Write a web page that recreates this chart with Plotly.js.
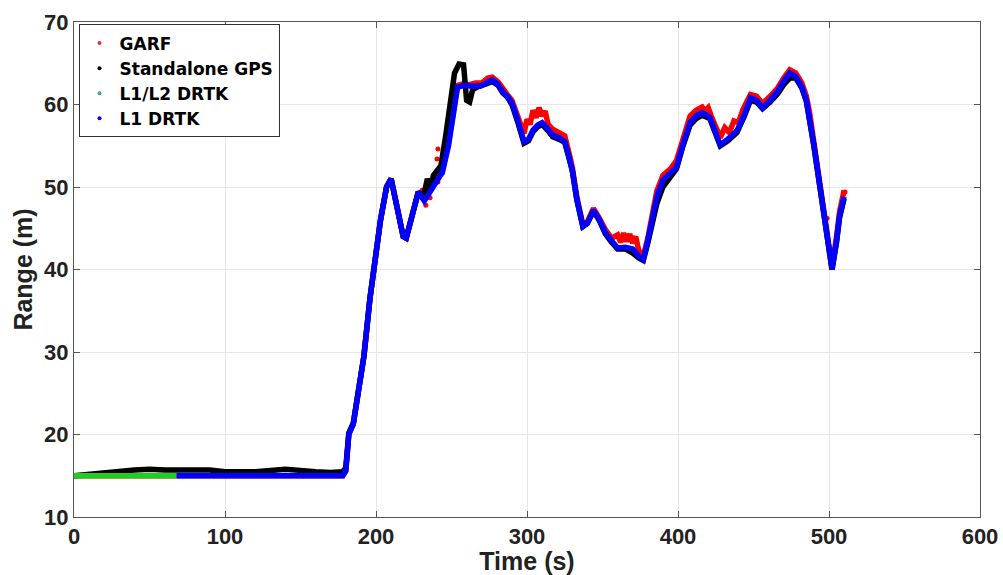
<!DOCTYPE html>
<html>
<head>
<meta charset="utf-8">
<script src="https://cdn.plot.ly/plotly-3.0.1.min.js"></script>
<style>html,body{margin:0;padding:0;background:#fff;}#chart{width:1003px;height:575px;}</style>
</head>
<body>
<div id="chart"></div>
<script>
// ---- data ----
const seriesNames = ["GARF", "Standalone GPS", "L1/L2 DRTK", "L1 DRTK"];

const garfT = [0, 20, 60, 100, 140, 178, 180, 182, 185, 188, 192, 196, 199, 203, 207, 210, 214, 218, 220, 224, 228, 232, 236, 240, 244, 248, 251, 254, 258, 262, 266, 270, 274, 277, 281, 284, 287, 290, 294, 298, 300, 302, 304, 306, 308, 310, 312, 314, 317, 321, 325, 328, 330, 333, 337, 340, 344, 348, 352, 356, 360, 362, 364, 366, 368, 370, 372, 374, 377, 380, 383, 386, 390, 395, 399, 403, 408, 412, 416, 418, 420, 422, 424, 428, 431, 434, 437, 440, 443, 446, 448, 452, 456, 461, 466, 470, 474, 476, 478, 482, 485, 487, 490, 494, 498, 502, 505, 507, 510];
const garfR = [15.0, 15.0, 15.0, 15.0, 15.0, 15.0, 15.6, 20.0, 21.3, 24.5, 29.5, 36.5, 41.0, 46.0, 50.0, 51.0, 47.5, 44.0, 43.8, 46.5, 49.4, 48.6, 49.8, 51.0, 52.0, 55.3, 58.4, 62.3, 62.5, 62.4, 62.6, 62.6, 63.2, 63.3, 62.7, 61.8, 61.2, 60.5, 58.5, 56.5, 58.2, 57.6, 59.3, 58.4, 59.6, 58.6, 59.2, 57.6, 57.0, 56.6, 56.2, 54.0, 52.4, 48.8, 45.4, 45.8, 47.4, 46.2, 44.8, 43.8, 44.2, 43.3, 44.4, 43.4, 44.3, 43.2, 44.0, 42.3, 41.6, 43.8, 47.0, 49.5, 51.4, 52.2, 53.2, 55.8, 58.6, 59.3, 59.7, 59.2, 59.6, 58.6, 57.6, 56.0, 57.2, 56.6, 58.0, 57.8, 59.4, 60.6, 61.2, 61.0, 60.1, 61.0, 62.0, 63.2, 64.2, 64.0, 63.8, 62.6, 61.0, 59.2, 55.6, 50.5, 45.5, 40.3, 44.0, 47.0, 49.6];
// scattered GARF fixes off the main track
const garfOutT = [230.5, 233.0, 235.0, 235.8, 240.4, 241.0, 241.0, 244.0, 498.7, 510.6];
const garfOutR = [49.6, 47.8, 49.9, 48.7, 53.4, 54.6, 50.6, 51.7, 46.2, 49.4];

const gpsT = [0, 10, 20, 30, 40, 50, 60, 80, 90, 100, 120, 140, 150, 160, 170, 178, 180, 182, 185, 188, 192, 196, 199, 203, 207, 210, 214, 218, 220, 224, 228, 230, 232, 234, 236, 238, 240, 243, 246, 249, 252, 255, 258, 260, 262, 264, 268, 273, 277, 281, 284, 287, 290, 294, 298, 301, 304, 307, 310, 314, 317, 321, 325, 328, 330, 333, 337, 340, 344, 348, 352, 356, 360, 365, 370, 374, 377, 380, 383, 386, 390, 395, 399, 403, 408, 412, 416, 421, 424, 428, 433, 439, 444, 448, 452, 456, 461, 466, 470, 474, 478, 482, 485, 487, 490, 494, 498, 502, 505, 507, 510];
const gpsR = [15.0, 15.2, 15.4, 15.6, 15.7, 15.8, 15.7, 15.7, 15.7, 15.5, 15.5, 15.8, 15.6, 15.5, 15.4, 15.5, 16.0, 20.2, 21.4, 24.5, 29.5, 36.5, 41.0, 46.0, 50.0, 51.0, 47.5, 44.0, 43.8, 46.5, 49.4, 49.0, 49.3, 51.0, 49.6, 51.4, 52.0, 52.6, 56.0, 60.0, 63.8, 64.9, 64.8, 60.5, 60.3, 61.8, 62.2, 62.5, 62.8, 62.3, 61.4, 60.9, 60.0, 57.8, 55.3, 55.6, 56.7, 57.3, 57.6, 56.8, 56.1, 55.8, 55.4, 53.4, 52.0, 48.5, 45.2, 45.6, 47.1, 45.9, 44.3, 43.3, 42.5, 42.5, 42.0, 41.4, 41.1, 43.2, 46.0, 48.0, 50.0, 51.3, 52.2, 54.8, 57.5, 58.3, 58.7, 58.3, 56.8, 55.0, 55.6, 56.6, 58.6, 60.5, 60.3, 59.5, 60.3, 61.3, 62.4, 63.2, 63.2, 62.0, 60.4, 58.5, 55.0, 50.0, 45.0, 40.0, 43.3, 46.3, 48.6];

const l1l2T = [0, 20, 40, 68];
const l1l2R = [15.0, 15.0, 15.0, 15.0];

const l1T = [68, 100, 150, 178, 180, 182, 185, 188, 192, 196, 199, 203, 207, 210, 214, 218, 220, 224, 228, 232, 236, 240, 244, 248, 251, 254, 258, 262, 266, 269, 273, 277, 281, 284, 287, 290, 294, 298, 301, 304, 307, 310, 314, 317, 321, 325, 328, 330, 333, 337, 340, 344, 348, 352, 356, 360, 365, 370, 374, 377, 380, 383, 386, 390, 395, 399, 403, 408, 412, 416, 421, 424, 428, 433, 439, 444, 448, 452, 456, 461, 466, 470, 474, 478, 482, 485, 487, 490, 494, 498, 502, 505, 507, 510];
const l1R = [15.0, 15.0, 15.0, 15.0, 15.6, 20.0, 21.3, 24.5, 29.5, 36.5, 41.0, 46.0, 50.0, 51.0, 47.5, 44.0, 43.8, 46.5, 49.4, 48.3, 49.5, 50.8, 51.8, 55.0, 58.1, 62.1, 62.3, 62.2, 62.2, 62.2, 62.6, 63.0, 62.4, 61.5, 61.0, 60.2, 58.0, 55.5, 55.8, 56.9, 57.5, 57.8, 57.0, 56.3, 56.0, 55.5, 53.5, 52.0, 48.5, 45.2, 45.6, 47.2, 46.0, 44.4, 43.5, 42.6, 42.7, 42.5, 41.6, 41.2, 43.5, 46.5, 48.8, 50.8, 51.6, 52.4, 55.0, 57.8, 58.6, 59.0, 58.5, 57.0, 55.1, 55.8, 56.8, 58.8, 60.8, 60.5, 59.6, 60.5, 61.6, 62.8, 63.8, 63.4, 62.1, 60.5, 58.5, 55.0, 50.0, 45.0, 40.0, 43.5, 46.5, 48.8];

const xTicks = [0, 100, 200, 300, 400, 500, 600];
const yTicks = [10, 20, 30, 40, 50, 60, 70];

const colors = ["#ff0000", "#000000", "#22cc22", "#0000ff"];
const legendColors = ["#e0303a", "#000000", "#3aa8a0", "#0000ff"];

const fontFam = "Liberation Sans, Arial, Helvetica, sans-serif";
const legendFam = "DejaVu Sans, Liberation Sans, sans-serif";

const traces = [
  {x: garfT, y: garfR, mode: "lines", line: {color: colors[0], width: 5.5}, showlegend: false},
  {x: garfOutT, y: garfOutR, mode: "markers", marker: {color: colors[0], size: 5}, showlegend: false},
  {x: gpsT, y: gpsR, mode: "lines", line: {color: colors[1], width: 5.5}, showlegend: false},
  {x: l1l2T, y: l1l2R, mode: "lines", line: {color: colors[2], width: 5.5}, showlegend: false},
  {x: l1T, y: l1R, mode: "lines", line: {color: colors[3], width: 5.5}, showlegend: false}
];
seriesNames.forEach((n, i) => {
  traces.push({x: [null], y: [null], name: n, mode: "markers",
    marker: {color: legendColors[i], size: 4}, showlegend: true});
});

const axisCommon = {
  showline: true, linecolor: "#555", linewidth: 1, mirror: "ticks",
  ticks: "inside", ticklen: 6, tickcolor: "#555",
  showgrid: true, gridcolor: "#e6e6e6", gridwidth: 1, zeroline: false,
  tickfont: {family: fontFam, size: 22, color: "#222", weight: "bold"}
};

const layout = {
  width: 1003, height: 575,
  margin: {l: 74, r: 23, t: 22, b: 58},
  paper_bgcolor: "#fff", plot_bgcolor: "#fff",
  font: {family: fontFam},
  xaxis: Object.assign({}, axisCommon, {
    range: [0, 600], tickvals: xTicks, ticktext: xTicks.map(String),
    title: {text: "Time (s)", font: {family: fontFam, size: 25, color: "#222", weight: "bold"}, standoff: 0}
  }),
  yaxis: Object.assign({}, axisCommon, {
    range: [10, 70], tickvals: yTicks, ticktext: yTicks.map(String),
    title: {text: "Range (m)", font: {family: fontFam, size: 25, color: "#222", weight: "bold"}, standoff: 4}
  }),
  legend: {
    x: 0.005, y: 0.995, xanchor: "left", yanchor: "top",
    bgcolor: "#fff", bordercolor: "#333", borderwidth: 1,
    font: {family: legendFam, size: 17, color: "#000", weight: "bold"},
    itemwidth: 30, tracegroupgap: 0
  },
  showlegend: true
};

Plotly.newPlot("chart", traces, layout, {displayModeBar: false, staticPlot: true});
</script>
</body>
</html>
